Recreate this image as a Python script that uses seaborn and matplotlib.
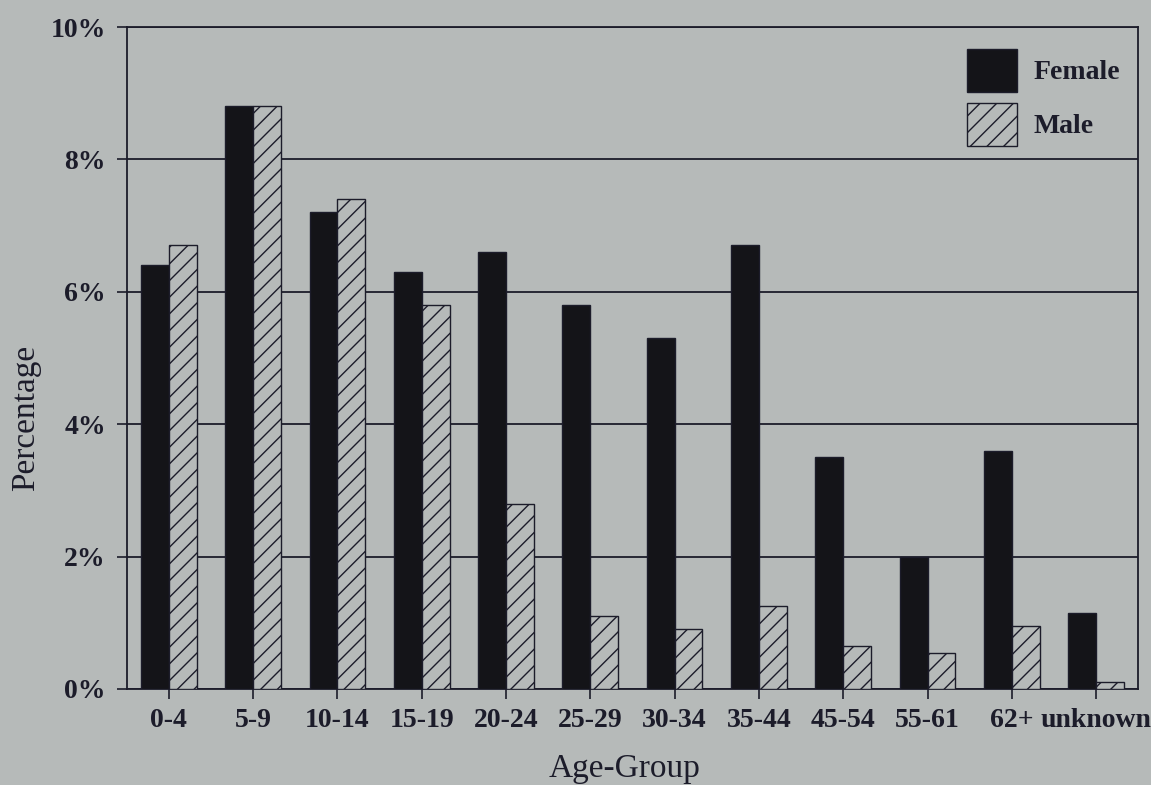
"""
Age-group distribution by sex, printed-chart style bar plot.
"""

import matplotlib
matplotlib.use("Agg")

import matplotlib.pyplot as plt
import pandas as pd
import seaborn as sns

sns.set_theme(style="white")
plt.rcParams["font.family"] = ["Liberation Serif", "DejaVu Serif"]

# data (percent)
age_groups = ["0-4", "5-9", "10-14", "15-19", "20-24", "25-29", "30-34",
              "35-44", "45-54", "55-61", "62+", "unknown"]
female_pct = [6.4, 8.8, 7.2, 6.3, 6.6, 5.8, 5.3, 6.7, 3.5, 2.0, 3.6, 1.15]
male_pct = [6.7, 8.8, 7.4, 5.8, 2.8, 1.1, 0.9, 1.25, 0.65, 0.55, 0.95, 0.1]
y_ticks = [0, 2, 4, 6, 8, 10]

paper = "#b6bab9"
ink = "#1c1c2a"
dark_bar = "#141418"

df = pd.DataFrame({
    "Age-Group": age_groups * 2,
    "Percentage": female_pct + male_pct,
    "Sex": ["Female"] * len(age_groups) + ["Male"] * len(age_groups),
})

fig = plt.figure(figsize=(11.51, 7.85), dpi=100, facecolor=paper)
ax = fig.add_axes([0.110, 0.1223, 0.879, 0.8433])
ax.set_facecolor(paper)

sns.barplot(
    data=df, x="Age-Group", y="Percentage", hue="Sex",
    order=age_groups, hue_order=["Female", "Male"],
    palette={"Female": dark_bar, "Male": paper},
    saturation=1, width=0.66, edgecolor=ink, linewidth=1.0,
    legend=False, ax=ax, zorder=3,
)

# male bars get the diagonal hatch
for patch in ax.containers[1]:
    patch.set_hatch("//")
    patch.set_edgecolor(ink)

ax.set_xlim(-0.5, len(age_groups) - 0.5)
ax.set_ylim(0, 10)
ax.set_yticks(y_ticks)
ax.yaxis.set_major_formatter(plt.FuncFormatter(lambda v, _: f"{v:.0f}%"))

ax.yaxis.grid(True, color=ink, linewidth=1.3)
ax.set_axisbelow(True)

for side in ["left", "right", "top", "bottom"]:
    ax.spines[side].set_visible(True)
    ax.spines[side].set_color(ink)
    ax.spines[side].set_linewidth(1.3)

ax.tick_params(axis="both", direction="out", length=7, width=1.2, color=ink,
               labelcolor=ink, labelsize=20)
ax.tick_params(axis="x", pad=7, bottom=True)
ax.tick_params(axis="y", pad=8, left=True)
for lbl in ax.get_xticklabels() + ax.get_yticklabels():
    lbl.set_fontweight("bold")

ax.set_xlabel("Age-Group", fontsize=24, color=ink)
ax.set_ylabel("Percentage", fontsize=24, color=ink)
ax.xaxis.set_label_coords(0.4926, -0.098)
ax.yaxis.set_label_coords(-0.085, 0.41)

leg = ax.legend(
    ax.containers, ["Female", "Male"],
    loc="upper left", bbox_to_anchor=(0.817, 0.988),
    frameon=False, borderpad=0, handlelength=1.8, handleheight=2.0,
    labelspacing=0.4, handletextpad=0.58, prop={"size": 20, "weight": "bold"},
)
for txt in leg.get_texts():
    txt.set_color(ink)

fig.savefig("out.png", dpi=100, facecolor=paper)
plt.close(fig)
